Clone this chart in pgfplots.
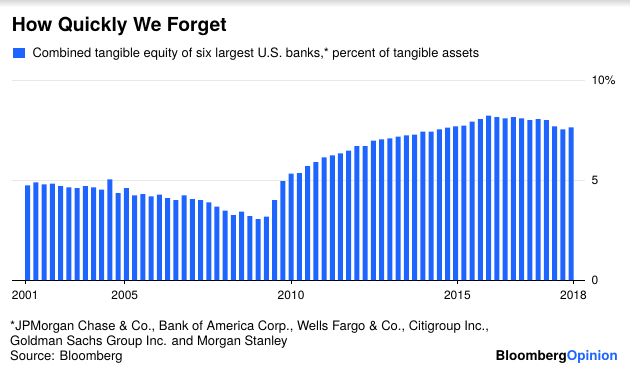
\documentclass[border=0pt]{standalone}
\usepackage{fontspec}
\setmainfont{TeX Gyre Heros}
\usepackage{pgfplots}
\pgfplotsset{compat=1.18}
\definecolor{bblue}{RGB}{30,100,255}
\definecolor{gridc}{RGB}{232,232,232}
\begin{document}
\begin{tikzpicture}[x=1pt,y=1pt]
\path[use as bounding box] (0,0) rectangle (630,368);
\shade[top color=gray!30, bottom color=white] (0,361) rectangle (630,368);
\begin{axis}[
  at={(12pt,88pt)}, anchor=south west,
  scale only axis, width=573pt, height=200pt,
  xmin=-1.9, xmax=67.7, ymin=0, ymax=10,
  axis x line*=bottom, axis y line*=right,
  axis line style={-},
  y axis line style={draw=none},
  x axis line style={black, line width=0.8pt},
  ytick={0,5,10}, yticklabels={0,5,10\%},
  ytick style={draw=none},
  ymajorgrids, grid style={gridc, line width=1pt},
  xtick={-0.3,11.8,32,52.2,66.3},
  xticklabels={2001,2005,2010,2015,2018},
  tick align=outside, major tick length=4pt,
  xtick style={black, line width=0.6pt},
  ticklabel style={font=\fontsize{12}{14}\selectfont},
  yticklabel style={anchor=west, xshift=-1pt},
  xticklabel style={yshift=-3pt},
  /pgf/number format/assume math mode=true,
]
\addplot[ybar, bar width=5pt, fill=bblue, draw=none] coordinates {
(0,4.73) (1,4.88) (2,4.78) (3,4.82) (4,4.70) (5,4.63) (6,4.60) (7,4.70)
(8,4.63) (9,4.52) (10,5.03) (11,4.35) (12,4.60) (13,4.23) (14,4.30) (15,4.18)
(16,4.27) (17,4.10) (18,4.00) (19,4.23) (20,4.05) (21,4.00) (22,3.88) (23,3.67)
(24,3.47) (25,3.25) (26,3.42) (27,3.20) (28,3.05) (29,3.17) (30,4.00) (31,4.95)
(32,5.32) (33,5.35) (34,5.70) (35,5.90) (36,6.13) (37,6.23) (38,6.33) (39,6.47)
(40,6.70) (41,6.70) (42,6.97) (43,7.03) (44,7.08) (45,7.17) (46,7.23) (47,7.27)
(48,7.42) (49,7.42) (50,7.53) (51,7.62) (52,7.68) (53,7.72) (54,7.92) (55,8.05)
(56,8.22) (57,8.15) (58,8.08) (59,8.15) (60,8.08) (61,8.00) (62,8.05) (63,8.00)
(64,7.68) (65,7.53) (66,7.63)
};
\end{axis}
\node[anchor=base west, inner sep=0, font=\bfseries\fontsize{19.3}{22}\selectfont] at (11.7,336.3) {How Quickly We Forget};
\fill[bblue] (13.3,309.7) rectangle (25,320.3);
\node[anchor=base west, inner sep=0, font=\fontsize{12.9}{15}\selectfont] at (32.3,310.7) {Combined tangible equity of six largest U.S. banks,* percent of tangible assets};
\node[anchor=base west, inner sep=0, font=\fontsize{13}{15}\selectfont] at (10,38) {*JPMorgan Chase \& Co., Bank of America Corp., Wells Fargo \& Co., Citigroup Inc.,};
\node[anchor=base west, inner sep=0, font=\fontsize{13}{15}\selectfont] at (10,23) {Goldman Sachs Group Inc. and Morgan Stanley};
\node[anchor=base west, inner sep=0, font=\fontsize{13}{15}\selectfont] at (10,8) {Source: Bloomberg};
\node[anchor=base east, inner sep=0, font=\bfseries\fontsize{13.5}{16}\selectfont] at (618,8) {Bloomberg\textcolor{bblue}{Opinion}};
\end{tikzpicture}
\end{document}
